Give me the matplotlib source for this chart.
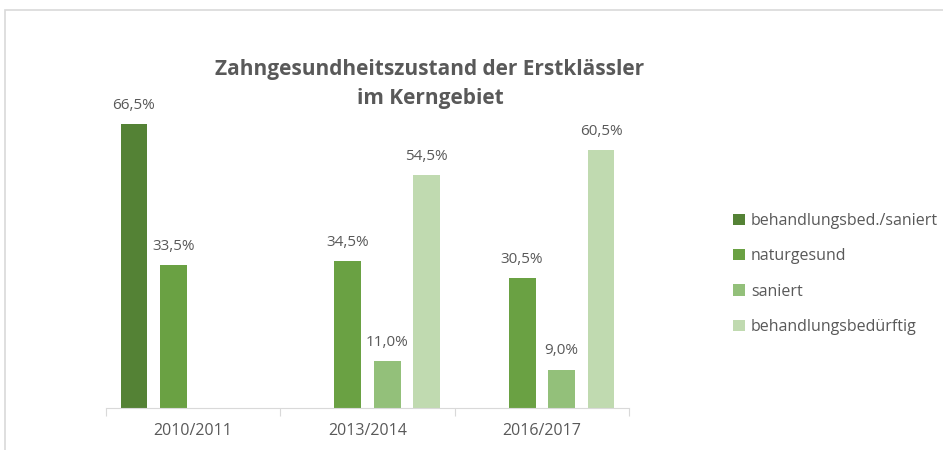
import matplotlib.pyplot as plt
import matplotlib.patches as mpatches
import numpy as np

years = ["2010/2011", "2013/2014", "2016/2017"]
series_names = ["behandlungsbed./saniert", "naturgesund", "saniert", "behandlungsbedürftig"]
behandlungsbed_saniert = [66.5, np.nan, np.nan]
naturgesund = [33.5, 34.5, 30.5]
saniert = [np.nan, 11.0, 9.0]
behandlungsbeduerftig = [np.nan, 54.5, 60.5]

colors = ["#548235", "#6aa143", "#93c07a", "#c0dab0"]
text_color = "#595959"

plt.rcParams["font.family"] = ["Open Sans", "DejaVu Sans"]

fig = plt.figure(figsize=(9.43, 4.5), dpi=100)
ax = fig.add_axes([106 / 943, 42 / 450, 523 / 943, 320 / 450])

# outer chart frame
fig.patches.append(mpatches.Rectangle((5 / 943, -0.1), 1.2, 1.1 - 10 / 450,
                                      transform=fig.transFigure, fill=False,
                                      edgecolor="#d9d9d9", linewidth=1.2))

x = np.arange(len(years))
slot = 0.2265
width = 0.154
all_series = [behandlungsbed_saniert, naturgesund, saniert, behandlungsbeduerftig]
for i, (name, vals, col) in enumerate(zip(series_names, all_series, colors)):
    pos = x + (i - 1.5) * slot
    ax.bar(pos, vals, width=width, color=col, label=name)
    for px, v in zip(pos, vals):
        if not np.isnan(v):
            ax.annotate(f"{v:.1f}".replace(".", ",") + "%", (px, v),
                        xytext=(0, 8), textcoords="offset points",
                        ha="center", va="bottom", fontsize=11, color=text_color)

ax.set_xlim(-0.5, 2.5)
ax.set_ylim(0, 75)
ax.set_yticks([])
for s in ["top", "right", "left"]:
    ax.spines[s].set_visible(False)
ax.spines["bottom"].set_color("#d9d9d9")
ax.set_xticks([-0.5, 0.5, 1.5, 2.5])
ax.set_xticklabels([])
ax.tick_params(axis="x", which="major", length=6, color="#d9d9d9", direction="out")
ax.set_xticks(x, minor=True)
ax.set_xticklabels(years, minor=True)
ax.tick_params(axis="x", which="minor", length=0, pad=11, labelsize=11.5,
               labelcolor=text_color)

fig.text(430 / 943, 1 - 84 / 450, "Zahngesundheitszustand der Erstklässler\nim Kerngebiet",
         ha="center", va="center", fontsize=15, fontweight="bold",
         color=text_color, linespacing=1.55)

leg = fig.legend(loc="center left", bbox_to_anchor=(719 / 943, 1 - 274 / 450),
                 frameon=False, fontsize=11.5, handlelength=0.7, handleheight=0.7,
                 handletextpad=0.4, labelspacing=1.2)
for t in leg.get_texts():
    t.set_color(text_color)

fig.savefig("out.png", dpi=100)
